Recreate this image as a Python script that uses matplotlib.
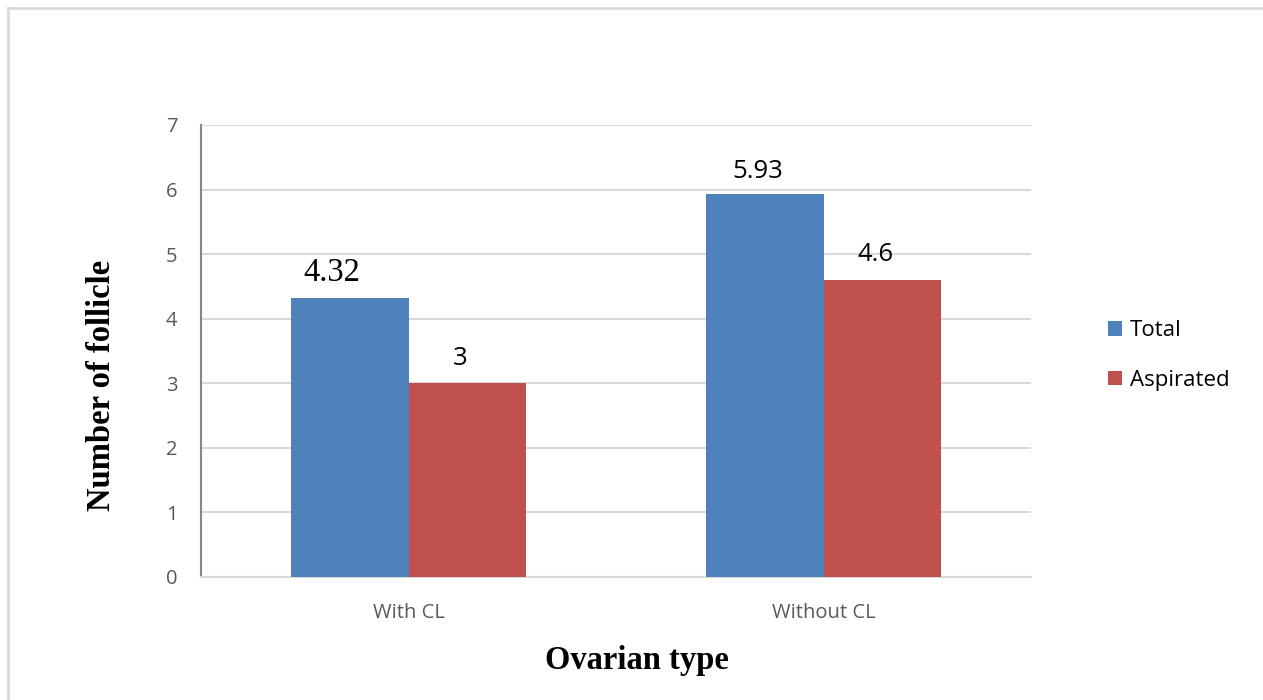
import matplotlib.pyplot as plt
from matplotlib.lines import Line2D
import numpy as np

categories = ["With CL", "Without CL"]
total = [4.32, 5.93]
aspirated = [3, 4.6]
series_names = ["Total", "Aspirated"]

blue = "#4F81BD"
red = "#C0504D"
grid_col = "#D9D9D9"

fig = plt.figure(figsize=(12.63, 7), dpi=100)
ax = fig.add_axes([201 / 1263, 123 / 700, 830 / 1263, 452 / 700])

x = np.arange(len(categories))
w = 0.284
b1 = ax.bar(x - w / 2, total, width=w, color=blue, label=series_names[0], zorder=3)
b2 = ax.bar(x + w / 2, aspirated, width=w, color=red, label=series_names[1], zorder=3)

ax.set_xlim(-0.5, 1.5)
ax.set_ylim(0, 7)
ax.set_yticks(range(8))
ax.set_xticks(x)
ax.set_xticklabels(categories)
ax.yaxis.grid(True, color=grid_col, linewidth=1.5, zorder=0)
ax.set_axisbelow(True)

for s in ["top", "right"]:
    ax.spines[s].set_visible(False)
ax.spines["left"].set_color("#868686")
ax.spines["left"].set_linewidth(1.5)
ax.spines["bottom"].set_color(grid_col)
ax.spines["bottom"].set_linewidth(1.5)
ax.tick_params(axis="both", length=0, labelsize=14.5, labelcolor="#595959",
               labelfontfamily="Open Sans")
ax.tick_params(axis="y", pad=17)
ax.tick_params(axis="x", pad=19)

# value labels; the first one is set in a serif face
for i, v in enumerate(total):
    if i == 0:
        ax.annotate(f"{v:g}", (x[i] - w / 2, v), xytext=(-13, 7), textcoords="offset points",
                    ha="center", va="bottom", fontsize=23.5, family="Liberation Serif")
    else:
        ax.annotate(f"{v:g}", (x[i] - w / 2, v), xytext=(-5, 7), textcoords="offset points",
                    ha="center", va="bottom", fontsize=18.5, family="Open Sans")
for i, v in enumerate(aspirated):
    ax.annotate(f"{v:g}", (x[i] + w / 2, v), xytext=(-5, 9), textcoords="offset points",
                ha="center", va="bottom", fontsize=18.5, family="Open Sans")

fig.text(102 / 1263, 1 - 385 / 700, "Number of follicle", rotation=90, ha="center", va="center",
         fontsize=23.5, fontweight="bold", family="Liberation Serif")
fig.text(637 / 1263, 1 - 660 / 700, "Ovarian type", ha="center", va="center",
         fontsize=23.5, fontweight="bold", family="Liberation Serif")

leg = ax.legend(loc="upper left", bbox_to_anchor=(1088 / 1263, 1 - 300 / 700),
                bbox_transform=fig.transFigure, frameon=False,
                prop={"family": "Open Sans", "size": 16},
                handlelength=0.65, handleheight=0.65, handletextpad=0.35, labelspacing=1.3)

# outer chart border
fig.add_artist(Line2D([8 / 1263, 1], [1 - 8 / 700, 1 - 8 / 700], transform=fig.transFigure,
                      color=grid_col, linewidth=2))
fig.add_artist(Line2D([8 / 1263, 8 / 1263], [0, 1 - 8 / 700], transform=fig.transFigure,
                      color=grid_col, linewidth=2))

fig.savefig("out.png", dpi=100)
